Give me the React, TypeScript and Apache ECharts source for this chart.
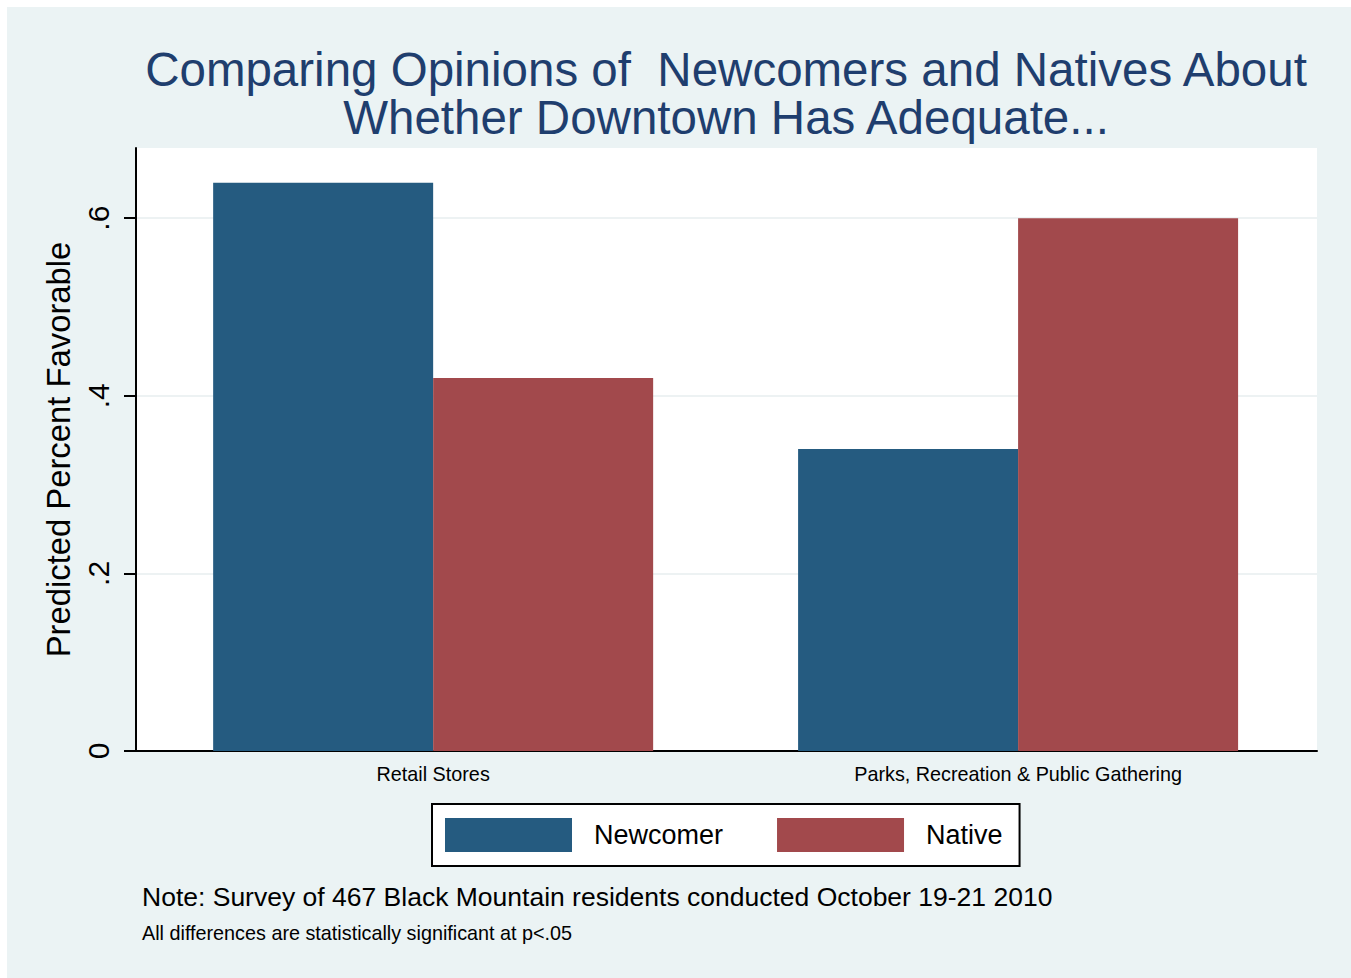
import React, { useEffect, useRef } from "react";
import * as echarts from "echarts";

const categories = ["Retail Stores", "Parks, Recreation & Public Gathering"];
const newcomer = [0.64, 0.34];
const native = [0.42, 0.6];
const yTicks = [0, 0.2, 0.4, 0.6];
const yTickLabels = ["0", ".2", ".4", ".6"];
const titleLines = [
  "Comparing Opinions of  Newcomers and Natives About",
  "Whether Downtown Has Adequate...",
];
const noteLines = [
  "Note: Survey of 467 Black Mountain residents conducted October 19-21 2010",
  "All differences are statistically significant at p<.05",
];

const FONT = "'Liberation Sans', Arial, Helvetica, sans-serif";

export default function App() {
  const ref = useRef<HTMLDivElement>(null);
  useEffect(() => {
    if (!ref.current) return;
    const chart = echarts.init(ref.current, undefined, { renderer: "svg" });
    chart.setOption({
      animation: false,
      backgroundColor: "#ebf3f4",
      textStyle: { fontFamily: FONT },
      grid: {
        left: 129,
        top: 141,
        right: 34,
        bottom: 227,
        show: true,
        backgroundColor: "#ffffff",
        borderWidth: 0,
      },
      graphic: [
        {
          type: "text",
          x: 719,
          y: 62,
          style: {
            text: titleLines[0],
            fontSize: 47.5,
            fontFamily: FONT,
            fill: "#1f3e6e",
            align: "center",
            verticalAlign: "middle",
          },
        },
        {
          type: "text",
          x: 719,
          y: 110,
          style: {
            text: titleLines[1],
            fontSize: 47.5,
            fontFamily: FONT,
            fill: "#1f3e6e",
            align: "center",
            verticalAlign: "middle",
          },
        },
        {
          type: "text",
          x: 135,
          y: 890,
          style: {
            text: noteLines[0],
            fontSize: 26.5,
            fontFamily: FONT,
            fill: "#000",
            align: "left",
            verticalAlign: "middle",
          },
        },
        {
          type: "text",
          x: 135,
          y: 926,
          style: {
            text: noteLines[1],
            fontSize: 19.8,
            fontFamily: FONT,
            fill: "#000",
            align: "left",
            verticalAlign: "middle",
          },
        },
      ],
      legend: {
        left: 425,
        top: 797,
        orient: "horizontal",
        data: ["Newcomer", "Native"],
        icon: "rect",
        itemWidth: 127,
        itemHeight: 34,
        itemGap: 54,
        padding: [14, 17, 14, 13],
        backgroundColor: "#ffffff",
        borderColor: "#000000",
        borderWidth: 2,
        textStyle: {
          fontSize: 27,
          color: "#000",
          fontFamily: FONT,
          padding: [4, 0, 0, 17],
        },
      },
      xAxis: {
        type: "value",
        min: -0.508,
        max: 1.511,
        axisLine: { show: true, onZero: false, lineStyle: { color: "#000", width: 2 } },
        axisTick: { show: false },
        axisLabel: {
          fontSize: 19.8,
          color: "#000",
          margin: 13,
          fontFamily: FONT,
          customValues: [0, 1],
          formatter: (v: number) => categories[Math.round(v)] ?? "",
        },
        splitLine: { show: false },
      },
      yAxis: {
        type: "value",
        min: 0,
        max: 0.679,
        interval: 0.2,
        name: "Predicted Percent Favorable",
        nameLocation: "middle",
        nameGap: 57,
        nameTextStyle: { fontSize: 32.8, color: "#000", fontFamily: FONT },
        axisLine: { show: true, onZero: false, lineStyle: { color: "#000", width: 2 } },
        axisTick: {
          show: true,
          length: 12,
          lineStyle: { color: "#000", width: 2 },
          customValues: yTicks,
        },
        axisLabel: {
          rotate: 90,
          fontSize: 30,
          color: "#000",
          margin: 23,
          fontFamily: FONT,
          customValues: yTicks,
          formatter: (v: number) => {
            const i = yTicks.findIndex((t) => Math.abs(t - v) < 1e-6);
            return i >= 0 ? yTickLabels[i] : "";
          },
        },
        splitLine: { show: true, lineStyle: { color: "#edf2f3", width: 2 } },
      },
      series: [
        {
          name: "Newcomer",
          type: "bar",
          data: newcomer.map((v, i) => [i, v]),
          barWidth: 220,
          barGap: "0%",
          itemStyle: { color: "#255b80" },
        },
        {
          name: "Native",
          type: "bar",
          data: native.map((v, i) => [i, v]),
          barWidth: 220,
          barGap: "0%",
          itemStyle: { color: "#a2494c" },
        },
      ],
    });
    return () => chart.dispose();
  }, []);
  return (
    <div
      style={{
        position: "fixed",
        left: 0,
        top: 0,
        width: 1351,
        height: 978,
        background: "#ffffff",
        overflow: "hidden",
      }}
    >
      <div
        ref={ref}
        style={{ position: "absolute", left: 7, top: 7, width: 1344, height: 971 }}
      />
    </div>
  );
}
